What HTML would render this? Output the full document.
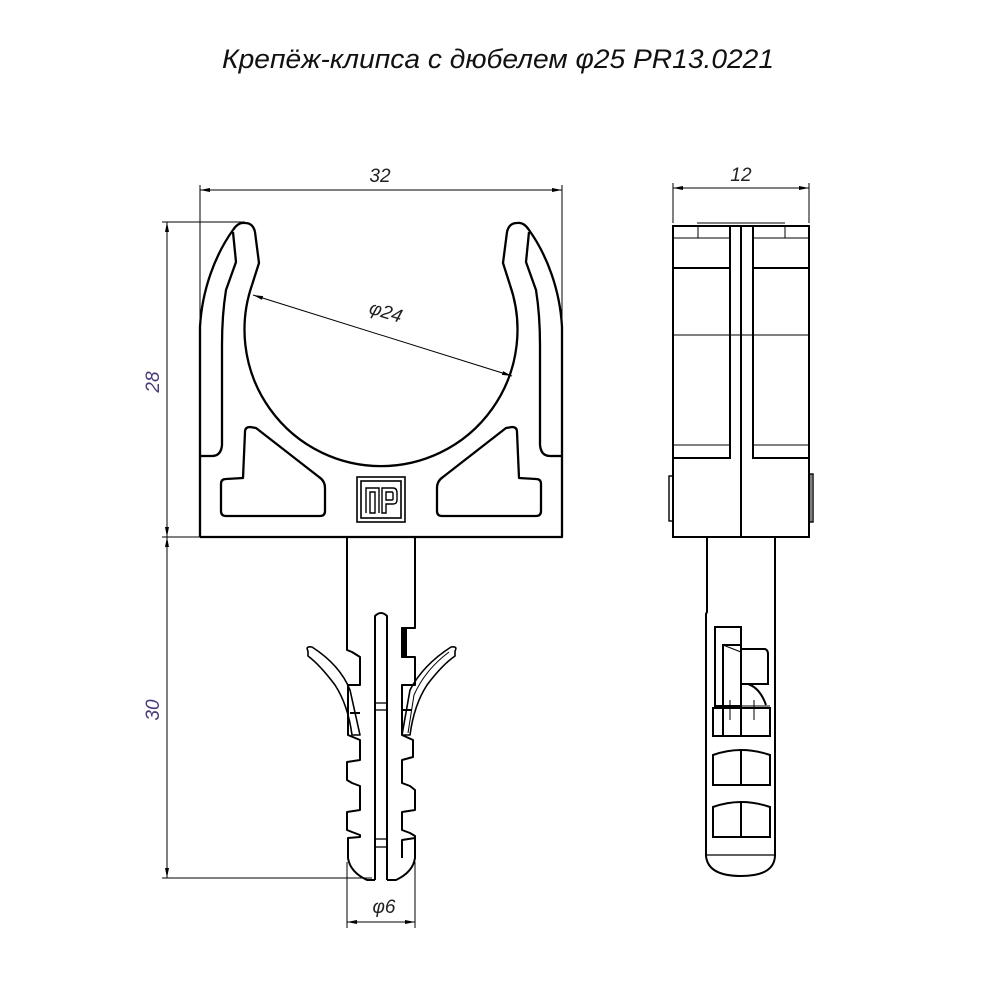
<!DOCTYPE html>
<html><head><meta charset="utf-8"><style>
html,body{margin:0;padding:0;background:#fff;}
svg{display:block}
text{font-family:"Liberation Sans",sans-serif;font-style:italic;}
</style></head><body>
<svg width="1000" height="1000" viewBox="0 0 1000 1000" xmlns="http://www.w3.org/2000/svg">
<defs>
<marker id="ar" viewBox="0 0 10 4" refX="10" refY="2" markerWidth="12" markerHeight="4" markerUnits="userSpaceOnUse" orient="auto-start-reverse">
<path d="M0,0 L10,2 L0,4 Z" fill="#000"/></marker>
</defs>
<text x="498" y="68" font-size="27" text-anchor="middle" textLength="552" lengthAdjust="spacingAndGlyphs" fill="#111">Крепёж-клипса с дюбелем φ25 PR13.0221</text>

<!-- dimensions -->
<g stroke="#000" stroke-width="1" fill="none">
<line x1="200" y1="185" x2="200" y2="456"/>
<line x1="562" y1="185" x2="562" y2="456"/>
<line x1="200" y1="190" x2="562" y2="190" marker-start="url(#ar)" marker-end="url(#ar)"/>
<line x1="673" y1="183" x2="673" y2="223"/>
<line x1="809" y1="183" x2="809" y2="223"/>
<line x1="673" y1="188" x2="809" y2="188" marker-start="url(#ar)" marker-end="url(#ar)"/>
<line x1="162" y1="222" x2="245" y2="222"/>
<line x1="162" y1="537" x2="200" y2="537"/>
<line x1="167" y1="222" x2="167" y2="537" marker-start="url(#ar)" marker-end="url(#ar)"/>
<line x1="162" y1="878" x2="372" y2="878"/>
<line x1="167" y1="537" x2="167" y2="878" marker-start="url(#ar)" marker-end="url(#ar)"/>
<line x1="347" y1="862" x2="347" y2="928"/>
<line x1="415" y1="862" x2="415" y2="928"/>
<line x1="347" y1="922" x2="415" y2="922" marker-start="url(#ar)" marker-end="url(#ar)"/>
<line x1="253" y1="295" x2="512" y2="376" marker-start="url(#ar)" marker-end="url(#ar)"/>
</g>
<g font-size="19" fill="#222">
<text x="380" y="182" text-anchor="middle">32</text>
<text x="741" y="181" text-anchor="middle">12</text>
<text x="384" y="913" text-anchor="middle">φ6</text>
<text x="384" y="318" text-anchor="middle" transform="rotate(17 384 318)">φ24</text>
<text x="159" y="382" text-anchor="middle" fill="#4a3a7a" transform="rotate(-90 159 382)">28</text>
<text x="159" y="710" text-anchor="middle" fill="#4a3a7a" transform="rotate(-90 159 710)">30</text>
</g>

<!-- front clip -->
<g stroke="#000" stroke-width="2.3" fill="none" stroke-linejoin="round">
<path d="M200,537 L562,537 L562,327"/>
<path d="M200,537 L200,327 C202,290 215,255 233,230"/>
<line x1="200" y1="456" x2="212" y2="456"/>
<line x1="562" y1="456" x2="550" y2="456"/>
<!-- left arm -->
<path d="M233,230 Q238,222 245,223 Q253,223 255,232 L259,263 L252,285"/>
<path d="M233,232 L236,262 L226,290 Q222,315 222,345 L222,445 Q221,456 212,456"/>
<!-- right arm -->
<path d="M562,327 C560,290 547,255 529,230 Q524,222 517,223 Q509,223 507,232 L503,263 L510,285"/>
<path d="M529,232 L526,262 L536,290 Q540,315 540,345 L540,445 Q541,456 550,456"/>
<!-- bore -->
<path d="M252,285 A136.5,136.5 0 1 0 510,285"/>
<!-- pockets -->
<path d="M245,432 Q245,427 250,427 L256,428 L319,477 Q325,481 325,488 L325,511 Q325,516 320,516 L226,516 Q221,516 221,511 L221,484 Q221,479 226,479 L243,478 Z"/>
<path d="M517,432 Q517,427 512,427 L506,428 L443,477 Q437,481 437,488 L437,511 Q437,516 442,516 L536,516 Q541,516 541,511 L541,484 Q541,479 536,479 L519,478 Z"/>
</g>
<!-- logo -->
<g stroke="#000" stroke-width="1.6" fill="none">
<rect x="357" y="477" width="48" height="45"/>
<rect x="361" y="481" width="40" height="37"/>
<path d="M366,513 L366,488 L379,488 L379,513 M370,513 L370,492 L375,492 L375,513 Z" stroke-width="1.4"/>
<path d="M382,513 L382,488 L393,488 Q397,488 397,493 L397,500 Q397,504 393,504 L386,504 L386,513 Z M386,492 L392,492 Q393,492 393,494 L393,499 Q393,500 392,500 L386,500 Z" stroke-width="1.4"/>
</g>

<!-- dowel front -->
<g stroke="#000" stroke-width="2" fill="none" stroke-linejoin="round">
<path d="M347,537 L347,650 L352,652 L360,657 L360,685 L348,685 L348,735 L360,740 L360,760 L347,762 L347,780 L352,783 L360,786 L360,810 L347,812 L347,830 L352,832 L360,835 L360,837 L348,838 L348,858 Q350,872 367,880 L375,880"/>
<path d="M415,537 L415,628 L402,628 L402,657 L415,657 L415,685 L402,685 L402,735 L413,740 L413,757 L402,760 L402,783 L410,786 L415,790 L415,810 L402,812 L402,830 L410,833 L415,836 L415,838 L402,840 L402,858"/>
<path d="M415,838 L415,858 Q413,872 396,880 L387,880"/>
<path d="M375,880 L375,616 Q381,610 387,616 L387,880"/>
<line x1="375" y1="703" x2="387" y2="703" stroke-width="1.3"/>
<line x1="375" y1="710" x2="387" y2="710" stroke-width="1.3"/>
<line x1="375" y1="839" x2="387" y2="839" stroke-width="1.3"/>
<line x1="375" y1="847" x2="387" y2="847" stroke-width="1.3"/>
<!-- left wing -->
<path d="M308,651 Q305,646 312,647 Q340,665 350,690 L360,735 L352,735 Q348,705 335,685 Q320,665 308,656 Z" stroke-width="1.6"/>
<line x1="350" y1="713" x2="360" y2="713"/>
<!-- right wing -->
<path d="M455,651 Q458,646 451,647 Q423,665 410,690 L402,735 L410,735 Q414,705 427,685 Q442,665 455,656 Z" stroke-width="1.6"/>
<path d="M449,652 Q425,670 414,695 L408,733" stroke-width="1"/>
<line x1="402" y1="710" x2="412" y2="710"/>
<rect x="402" y="628" width="4" height="29" fill="#000"/>
</g>

<!-- side view -->
<g stroke="#000" stroke-width="2" fill="none">
<rect x="673" y="226" width="136" height="311"/>
<line x1="741" y1="226" x2="741" y2="537"/>
<path d="M673,458 L730,458 L730,226 M809,458 L753,458 L753,226" />
<rect x="669" y="476" width="4" height="45" stroke-width="1.4"/>
<rect x="809" y="474" width="4" height="48" stroke-width="1.4"/>
<line x1="811" y1="474" x2="811" y2="522" stroke-width="1"/>
</g>
<g stroke="#000" stroke-width="1" fill="none">
<line x1="697" y1="223" x2="785" y2="223"/>
<line x1="673" y1="238" x2="730" y2="238"/>
<line x1="753" y1="238" x2="809" y2="238"/>
<line x1="698" y1="226" x2="698" y2="238"/>
<line x1="785" y1="226" x2="785" y2="238"/>
<line x1="673" y1="335" x2="809" y2="335"/>
<line x1="673" y1="445" x2="730" y2="445"/>
<line x1="753" y1="445" x2="809" y2="445"/>
</g>
<g stroke="#000" stroke-width="2" fill="none">
<line x1="673" y1="268" x2="730" y2="268"/>
<line x1="753" y1="268" x2="809" y2="268"/>
<path d="M707,537 L707,612 L706,614 L706,856 Q708,876 741,876 Q774,876 775,856 L775,537"/>
<line x1="707" y1="855" x2="775" y2="855" stroke-width="1.2"/>
<rect x="715" y="627" width="26" height="79"/>
<rect x="723" y="645" width="18" height="91"/>
<path d="M741,649 L765,649 Q768,650 768,654 L768,684 L741,684"/>
<path d="M748,684 Q760,688 766,705"/>
<rect x="713" y="708" width="57" height="28"/>
<line x1="741" y1="708" x2="741" y2="736"/>
<path d="M713,785 L713,755 Q741,745 770,755 L770,785 Z"/>
<line x1="741" y1="751" x2="741" y2="785"/>
<path d="M713,837 L713,807 Q741,797 770,807 L770,837 Z"/>
<line x1="741" y1="803" x2="741" y2="837"/>
</g>
<g stroke="#000" stroke-width="1" fill="none">
<line x1="723" y1="645" x2="741" y2="652"/>
<line x1="730" y1="700" x2="730" y2="720"/>
<line x1="754" y1="700" x2="754" y2="720"/>
<line x1="723" y1="706" x2="770" y2="706"/>
</g>
</svg>
</body></html>
